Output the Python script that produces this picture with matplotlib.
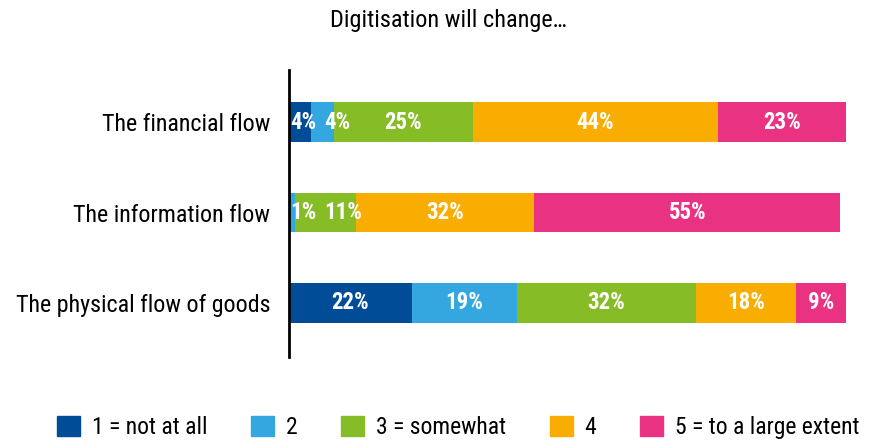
import matplotlib.pyplot as plt
from matplotlib.patches import Patch

plt.rcParams['font.family'] = ['Roboto Condensed', 'DejaVu Sans']

# survey answers, share of respondents in %
flows = ["The financial flow", "The information flow", "The physical flow of goods"]
answers = ["1 = not at all", "2", "3 = somewhat", "4", "5 = to a large extent"]
not_at_all = [4, 0, 22]
two = [4, 1, 19]
somewhat = [25, 11, 32]
four = [44, 32, 18]
large_extent = [23, 55, 9]
colors = ["#004c97", "#34a7e0", "#86bc25", "#f8ad00", "#ea3282"]

series = [not_at_all, two, somewhat, four, large_extent]

fig = plt.figure(figsize=(8.71, 4.41), dpi=100)
ax = fig.add_axes([0.3318, 0.1905, 0.6395, 0.6508])

labels = [[] for _ in flows]
left = [0] * len(flows)
for vals, col in zip(series, colors):
    ax.barh(range(len(flows)), vals, left=left, height=0.44, color=col)
    for i, v in enumerate(vals):
        if v > 0:
            t = ax.text(left[i] + v / 2, i, "%d%%" % v, ha="center", va="center",
                        color="white", fontsize=16.5, fontweight="bold")
            labels[i].append(t)
    left = [l + v for l, v in zip(left, vals)]

ax.set_xlim(0, 100)
ax.set_ylim(2.6, -0.58)
ax.set_yticks(range(len(flows)))
ax.set_yticklabels(flows, fontsize=17.3)
ax.tick_params(axis="y", length=0, pad=13.5)
ax.set_xticks([])
for s in ["top", "right", "bottom"]:
    ax.spines[s].set_visible(False)
ax.spines["left"].set_linewidth(2)

fig.text(0.515, 0.953, "Digitisation will change\u2026", ha="center", va="center", fontsize=17.5)

handles = [Patch(color=c) for c in colors]
fig.legend(handles, answers, loc="center", bbox_to_anchor=(0.526, 0.031), ncol=5,
           frameon=False, fontsize=17, handlelength=0.97, handleheight=0.97,
           handletextpad=0.5, columnspacing=1.86)

# push labels of thin segments to the right so they don't collide
fig.canvas.draw()
r = fig.canvas.get_renderer()
x0 = ax.transData.transform((0, 0))[0]
px_per_pct = ax.transData.transform((1, 0))[0] - x0
gap = 8
for row in labels:
    limit = x0 + 1
    for t in row:
        bb = t.get_window_extent(r)
        shift = max(0, limit - bb.x0)
        if shift:
            x, y = t.get_position()
            t.set_x(x + shift / px_per_pct)
        limit = bb.x1 + shift + gap

fig.savefig("out.png", dpi=100)
